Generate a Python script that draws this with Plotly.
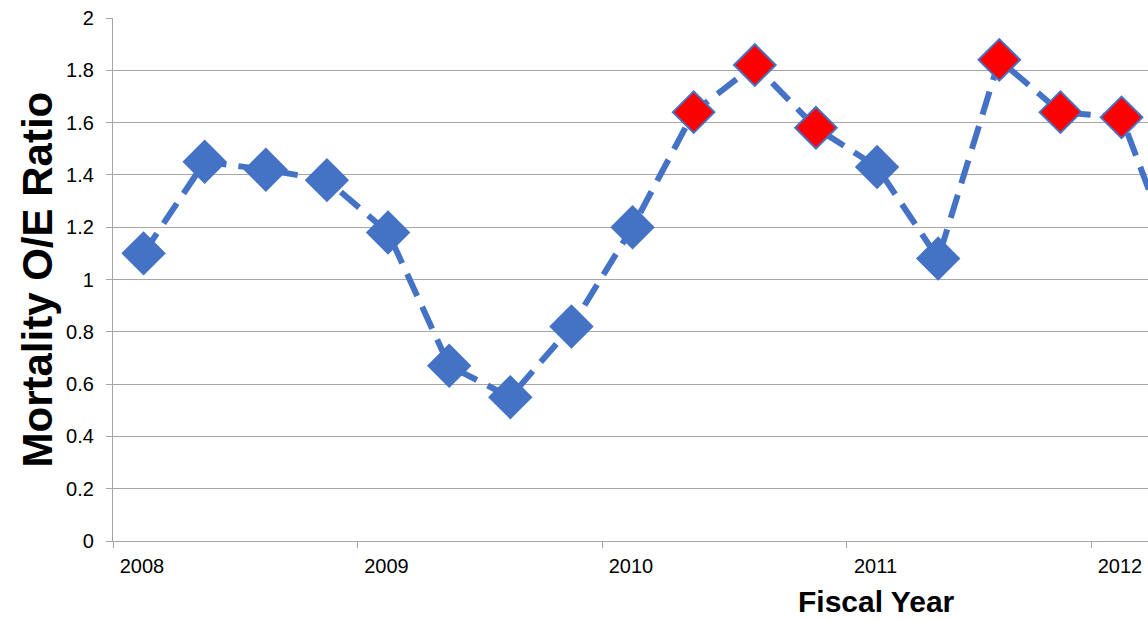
import plotly.graph_objects as go

# Quarterly data points (mid-quarter positions on a fiscal-year axis)
x_vals = [2008.125, 2008.375, 2008.625, 2008.875,
          2009.125, 2009.375, 2009.625, 2009.875,
          2010.125, 2010.375, 2010.625, 2010.875,
          2011.125, 2011.375, 2011.625, 2011.875,
          2012.125, 2012.375]
oe_ratio = [1.10, 1.45, 1.42, 1.38,
            1.18, 0.67, 0.55, 0.82,
            1.20, 1.64, 1.82, 1.58,
            1.43, 1.08, 1.84, 1.64,
            1.62, 1.00]
flagged = [False, False, False, False,
           False, False, False, False,
           False, True, True, True,
           False, False, True, True,
           True, False]

year_ticks = [2008, 2009, 2010, 2011, 2012]
year_labels = ["2008", "2009", "2010", "2011", "2012"]
y_ticks = [0, 0.2, 0.4, 0.6, 0.8, 1, 1.2, 1.4, 1.6, 1.8, 2]
y_labels = ["0", "0.2", "0.4", "0.6", "0.8", "1", "1.2", "1.4", "1.6", "1.8", "2"]

BLUE = "#4472C4"
RED = "#FF0000"
GRID = "#A6A6A6"

marker_colors = [RED if f else BLUE for f in flagged]

fig = go.Figure()
fig.add_trace(go.Scatter(
    x=x_vals, y=oe_ratio, mode="lines",
    line=dict(color=BLUE, width=6, dash="24px,12px"),
    hoverinfo="skip", showlegend=False,
))
fig.add_trace(go.Scatter(
    x=x_vals, y=oe_ratio, mode="markers",
    marker=dict(symbol="diamond", size=32, color=marker_colors,
                line=dict(color=BLUE, width=2)),
    cliponaxis=True, showlegend=False,
))

fig.update_layout(
    width=1148, height=620,
    margin=dict(l=113, r=0, t=18, b=79),
    paper_bgcolor="white", plot_bgcolor="white",
    font=dict(family="Liberation Sans, Arial, sans-serif", color="#000000"),
    xaxis=dict(
        range=[2008, 2008 + 1035 / 244.5],
        tickvals=year_ticks, ticktext=year_labels,
        ticks="outside", ticklen=6, tickcolor=GRID, tickwidth=1.3,
        showline=True, linecolor=GRID, linewidth=1.3,
        showgrid=False, zeroline=False,
        tickfont=dict(size=20, color="#000000"),
        ticklabelshift=29, ticklabelstandoff=1,
    ),
    yaxis=dict(
        range=[0, 2],
        tickvals=y_ticks, ticktext=y_labels,
        ticks="outside", ticklen=6, tickcolor=GRID, tickwidth=1.3,
        showline=True, linecolor=GRID, linewidth=1.3,
        showgrid=True, gridcolor=GRID, gridwidth=1.3,
        zeroline=False,
        tickfont=dict(size=20, color="#000000"),
        ticklabelstandoff=8,
    ),
    annotations=[
        dict(text="<b>Mortality O/E Ratio</b>", textangle=-90,
             xref="paper", yref="paper", x=(37 - 113) / 1035, y=0.5,
             xanchor="center", yanchor="middle", showarrow=False,
             font=dict(size=42, color="#000000")),
        dict(text="<b>Fiscal Year</b>",
             xref="paper", yref="paper", x=(876.5 - 113) / 1035, y=(541 - 620) / 523,
             xanchor="center", yanchor="bottom", showarrow=False,
             font=dict(size=30, color="#000000")),
    ],
)

fig.write_html("out.html")
